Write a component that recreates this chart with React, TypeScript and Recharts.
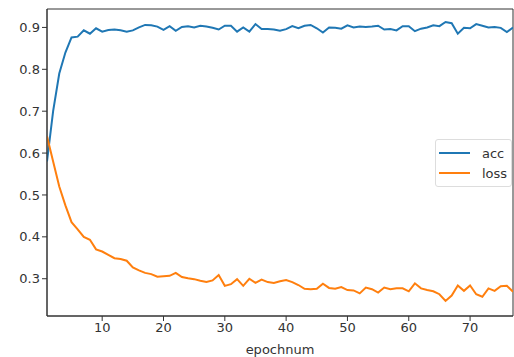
import { LineChart, Line, XAxis, YAxis, ReferenceArea } from "recharts";

const accValues = [
  0.58, 0.7, 0.79, 0.84, 0.876, 0.878, 0.893, 0.885, 0.898, 0.89,
  0.894, 0.895, 0.893, 0.89, 0.893, 0.9, 0.906, 0.905, 0.902, 0.894,
  0.903, 0.892, 0.901, 0.903, 0.9, 0.904, 0.902, 0.899, 0.895, 0.904,
  0.904, 0.89, 0.9, 0.89, 0.908, 0.896, 0.896, 0.895, 0.892, 0.896,
  0.903, 0.898, 0.904, 0.906, 0.898, 0.888, 0.9, 0.899, 0.897, 0.905,
  0.9, 0.902, 0.901, 0.902, 0.904, 0.895, 0.896, 0.893, 0.903, 0.903,
  0.891, 0.897, 0.9, 0.905, 0.903, 0.913, 0.91, 0.885, 0.899, 0.898,
  0.908, 0.904, 0.9, 0.901, 0.899, 0.889, 0.9,
];

const lossValues = [
  0.64, 0.58, 0.52, 0.475, 0.435, 0.418, 0.4, 0.393, 0.37, 0.365,
  0.357, 0.349, 0.347, 0.343, 0.327, 0.32, 0.314, 0.311, 0.305, 0.306,
  0.307, 0.314, 0.304, 0.301, 0.299, 0.295, 0.292, 0.296, 0.309, 0.283,
  0.287, 0.299, 0.283, 0.3, 0.29, 0.298, 0.292, 0.29, 0.294, 0.297,
  0.292, 0.285, 0.276, 0.275, 0.276, 0.288, 0.278, 0.276, 0.28, 0.273,
  0.272, 0.265, 0.279, 0.275, 0.267, 0.279, 0.275, 0.277, 0.277, 0.27,
  0.289, 0.277, 0.273, 0.27, 0.263, 0.247, 0.26, 0.284, 0.271, 0.284,
  0.263, 0.257, 0.277, 0.271, 0.282, 0.283, 0.269,
];

const xTicks = [10, 20, 30, 40, 50, 60, 70];
const yTicks = [0.3, 0.4, 0.5, 0.6, 0.7, 0.8, 0.9];

const X_MIN = 1;
const X_MAX = 77;
const Y_MIN = 0.211;
const Y_MAX = 0.944;

const data = accValues.map((acc, i) => ({ epoch: i + 1, acc, loss: lossValues[i] }));

const font = "'DejaVu Sans', sans-serif";
const tickStyle = { fill: "#333", fontSize: 13, fontFamily: font };

const series = [
  { key: "acc", color: "#1f77b4" },
  { key: "loss", color: "#ff7f0e" },
];

// legend sits outside the chart so recharts doesn't shrink the plot for it
const LegendBox = () => (
  <div
    style={{
      position: "absolute",
      left: 435,
      top: 139,
      width: 77,
      boxSizing: "border-box",
      border: "1px solid #ddd",
      borderRadius: 3,
      background: "#fff",
      padding: "3px 0 3px 3px",
      fontFamily: font,
      fontSize: 13,
      color: "#333",
    }}
  >
    {series.map((s) => (
      <div key={s.key} style={{ display: "flex", alignItems: "center", height: 20 }}>
        <div style={{ width: 31, height: 2, background: s.color, marginRight: 12 }} />
        <span>{s.key}</span>
      </div>
    ))}
  </div>
);

export default function App() {
  return (
    <div style={{ position: "absolute", left: 0, top: 0, width: 514, height: 357, background: "#fff" }}>
      <LineChart width={514} height={357} data={data} margin={{ top: 9, right: 1, bottom: 0, left: 0 }}>
        <XAxis
          dataKey="epoch"
          type="number"
          domain={[X_MIN, X_MAX]}
          ticks={xTicks}
          allowDataOverflow
          height={41}
          tick={tickStyle}
          tickSize={5}
          stroke="#333"
          label={{ value: "epochnum", position: "insideBottom", offset: 3, fill: "#333", fontSize: 13, fontFamily: font }}
        />
        <YAxis
          type="number"
          domain={[Y_MIN, Y_MAX]}
          ticks={yTicks}
          allowDataOverflow
          width={47}
          tick={tickStyle}
          tickSize={5}
          stroke="#333"
          tickFormatter={(v: number) => v.toFixed(1)}
        />
        <ReferenceArea x1={X_MIN} x2={X_MAX} y1={Y_MIN} y2={Y_MAX} fill="none" stroke="#333" strokeWidth={1} />
        {series.map((s) => (
          <Line
            key={s.key}
            dataKey={s.key}
            stroke={s.color}
            strokeWidth={2}
            dot={false}
            isAnimationActive={false}
          />
        ))}
      </LineChart>
      <LegendBox />
    </div>
  );
}
